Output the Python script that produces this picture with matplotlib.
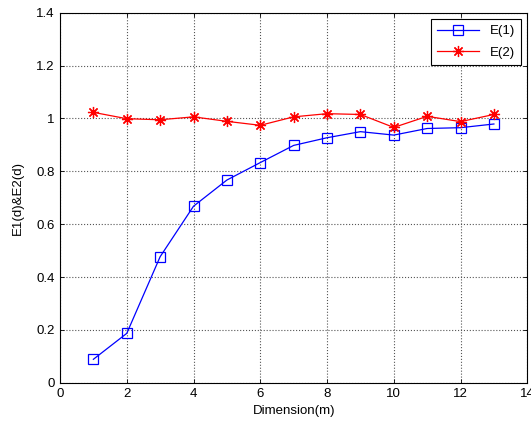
import matplotlib.pyplot as plt

dims = [1, 2, 3, 4, 5, 6, 7, 8, 9, 10, 11, 12, 13]
e1 = [0.089, 0.187, 0.477, 0.668, 0.767, 0.833, 0.898, 0.927, 0.950, 0.937, 0.962, 0.965, 0.979]
e2 = [1.023, 0.999, 0.995, 1.006, 0.989, 0.974, 1.006, 1.018, 1.015, 0.966, 1.008, 0.988, 1.015]

plt.rcParams['font.family'] = ['Liberation Sans', 'DejaVu Sans']
plt.rcParams['font.size'] = 9.5

fig = plt.figure(figsize=(5.31, 4.23), dpi=100)
ax = fig.add_axes([0.113, 0.095, 0.880, 0.875])

ax.plot(dims, e1, color='blue', marker='s', markersize=7.5, markerfacecolor='none',
        markeredgewidth=0.9, linewidth=0.9, label='E(1)')
ax.plot(dims, e2, color='red', marker=(8, 2, 0), markersize=8, markeredgewidth=0.9,
        linewidth=0.9, label='E(2)')

ax.set_xlim(0, 14)
ax.set_ylim(0, 1.4)
ax.set_xticks(range(0, 15, 2))
ax.set_yticks([0, 0.2, 0.4, 0.6, 0.8, 1.0, 1.2, 1.4])
ax.set_yticklabels(['0', '0.2', '0.4', '0.6', '0.8', '1', '1.2', '1.4'])
ax.tick_params(direction='in', top=True, right=True, length=3, width=0.6, pad=4)
ax.grid(True, color='#555555', linestyle=':', linewidth=0.8)
for s in ax.spines.values():
    s.set_linewidth(0.8)

ax.set_xlabel('Dimension(m)', labelpad=3)
ax.set_ylabel('E1(d)&E2(d)', labelpad=9)

leg = ax.legend(loc='upper right', fancybox=False, edgecolor='black', framealpha=1,
                handlelength=3.2, borderaxespad=0.5, borderpad=0.45, labelspacing=0.7)
leg.get_frame().set_linewidth(0.8)

fig.savefig('out.png', dpi=100)
